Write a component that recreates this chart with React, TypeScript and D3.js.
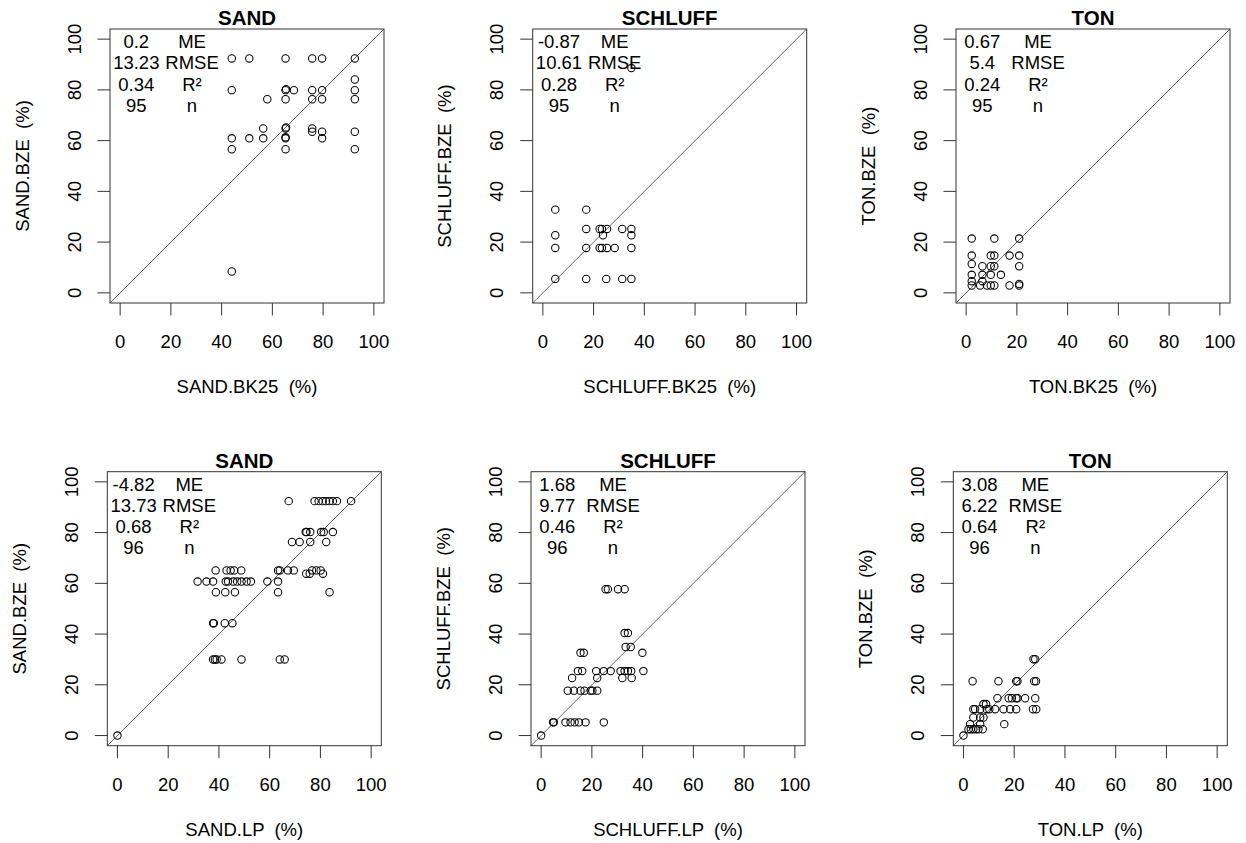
import React from 'react'
import { scaleLinear } from 'd3'

// BK25 / LP vs. BZE texture comparison
const ticks = [0, 20, 40, 60, 80, 100]
const statNames = ['ME', 'RMSE', 'R²', 'n']

// top row: BK25 vs BZE
const sandBkX = [44, 50.9, 65.2, 75.7, 79.6, 92.5, 92.5, 44, 65.2, 65.4, 68.5, 75.7, 79.6, 92.5, 58, 65.2, 75.7, 79.6, 92.5, 56.4, 65.2, 65.4, 75.7, 75.7, 79.6, 92.5, 44, 50.9, 56.4, 65.2, 65.2, 79.6, 44, 65.2, 92.5, 44]
const sandBkY = [92.4, 92.4, 92.4, 92.4, 92.4, 92.4, 84.1, 79.9, 79.9, 80.3, 79.9, 79.9, 79.9, 79.9, 76.3, 76.3, 76.3, 76.3, 76.3, 64.8, 64.8, 65.2, 64.8, 63.5, 63.5, 63.5, 60.9, 60.9, 60.9, 60.9, 61.3, 60.9, 56.6, 56.6, 56.6, 8.4]
const schluffBkX = [34.9, 4.9, 17.1, 17.1, 22.4, 23.3, 25.3, 31.3, 34.9, 4.9, 23.7, 34.9, 4.9, 17.1, 22.4, 23.3, 25.3, 28.3, 34.9, 4.9, 17.1, 25, 31.3, 34.9]
const schluffBkY = [88.6, 32.8, 32.8, 25.2, 25.2, 25.2, 25.2, 25.2, 25.2, 22.7, 22.7, 22.7, 17.7, 17.7, 17.7, 17.7, 17.7, 17.7, 17.7, 5.5, 5.5, 5.5, 5.5, 5.5]
const tonBkX = [2.2, 11.1, 20.9, 2.2, 9.7, 11.1, 17.1, 20.9, 2.2, 6.4, 9.7, 11.1, 20.9, 2.2, 6.4, 9.7, 13.7, 2.2, 6.4, 2.2, 5.5, 8.2, 9.7, 11.1, 17.1, 20.9, 20.9]
const tonBkY = [21.4, 21.4, 21.4, 14.7, 14.7, 14.7, 14.7, 14.7, 11.4, 10.5, 10.5, 10.5, 10.5, 7.1, 7.1, 7.1, 7.1, 4.6, 4.6, 2.9, 2.9, 2.9, 2.9, 2.9, 2.9, 2.9, 3.5]

// bottom row: LP vs BZE
const sandLpX = [67.5, 77.7, 79.3, 80.9, 82.2, 83.5, 84.9, 86.5, 92.1, 74.2, 74.5, 76, 80.3, 81.3, 84.9, 68.8, 71.8, 76, 82.3, 38.7, 43, 44.6, 46, 48.8, 63.3, 64, 67.2, 69.5, 76.7, 78.4, 80.1, 74.4, 75.8, 81, 31.6, 35.1, 37.7, 42.7, 43.6, 45.6, 47.2, 48.9, 50.9, 52.6, 59.1, 63.3, 38.8, 42.5, 46.3, 63.3, 83.6, 37.7, 38, 42.3, 45.3, 37.7, 38.4, 39.1, 41, 48.9, 64, 65.9, 0]
const sandLpY = [92.4, 92.4, 92.4, 92.4, 92.4, 92.4, 92.4, 92.4, 92.4, 80.2, 80.2, 80.2, 80.2, 80.2, 80.2, 76.3, 76.3, 76.3, 76.3, 65.1, 65.1, 65.1, 65.1, 65.1, 65.1, 65.1, 65.1, 65.1, 65.1, 65.1, 65.1, 63.8, 63.8, 63.8, 60.7, 60.7, 60.7, 60.7, 60.7, 60.7, 60.7, 60.7, 60.7, 60.7, 60.7, 60.7, 56.5, 56.5, 56.5, 56.5, 56.5, 44.3, 44.3, 44.3, 44.3, 30, 30, 30, 30, 30, 30, 30, 0]
const schluffLpX = [25.4, 26.3, 30.3, 32.9, 32.9, 34.2, 33.3, 35.3, 15.5, 16.8, 39.9, 14.5, 16.2, 21.7, 24.7, 27.4, 31.3, 32.9, 34.2, 35.5, 40.3, 12.2, 22.1, 32, 35.7, 10.5, 12.9, 15.5, 17.1, 19.5, 20.2, 22.1, 4.7, 5, 9.6, 11.6, 13.2, 14.9, 17.5, 24.7, 0]
const schluffLpY = [57.7, 57.7, 57.7, 57.7, 40.4, 40.4, 34.9, 34.9, 32.6, 32.6, 32.6, 25.4, 25.4, 25.4, 25.4, 25.4, 25.4, 25.4, 25.4, 25.4, 25.4, 22.7, 22.7, 22.7, 22.7, 17.7, 17.7, 17.7, 17.7, 17.7, 17.7, 17.7, 5.2, 5.2, 5.2, 5.2, 5.2, 5.2, 5.2, 5.2, 0]
const tonLpX = [27.6, 28.3, 3.6, 13.8, 20.8, 21.3, 27.9, 28.6, 13.4, 17.8, 19.1, 20.8, 21.3, 24.3, 28.3, 7.9, 8.9, 3.9, 4.6, 6.6, 9.2, 10.2, 12.5, 15.8, 18.4, 20.8, 27.4, 28.7, 3.9, 6.6, 7.9, 2.6, 6.6, 16.1, 2, 2.9, 3.9, 5, 5.9, 7.6, 0]
const tonLpY = [30.1, 30.1, 21.4, 21.4, 21.4, 21.4, 21.4, 21.4, 14.7, 14.7, 14.7, 14.7, 14.7, 14.7, 14.7, 12.4, 12.4, 10.4, 10.4, 10.4, 10.4, 10.4, 10.4, 10.4, 10.4, 10.4, 10.4, 10.4, 7.1, 7.1, 7.1, 4.5, 4.5, 4.5, 2.5, 2.5, 2.5, 2.5, 2.5, 2.5, 0]

const titles = ['SAND', 'SCHLUFF', 'TON', 'SAND', 'SCHLUFF', 'TON']
const xLabels = ['SAND.BK25  (%)', 'SCHLUFF.BK25  (%)', 'TON.BK25  (%)', 'SAND.LP  (%)', 'SCHLUFF.LP  (%)', 'TON.LP  (%)']
const yLabels = ['SAND.BZE  (%)', 'SCHLUFF.BZE  (%)', 'TON.BZE  (%)', 'SAND.BZE  (%)', 'SCHLUFF.BZE  (%)', 'TON.BZE  (%)']
const statValues = [
  ['0.2', '13.23', '0.34', '95'],
  ['-0.87', '10.61', '0.28', '95'],
  ['0.67', '5.4', '0.24', '95'],
  ['-4.82', '13.73', '0.68', '96'],
  ['1.68', '9.77', '0.46', '96'],
  ['3.08', '6.22', '0.64', '96'],
]
const panelX = [sandBkX, schluffBkX, tonBkX, sandLpX, schluffLpX, tonLpX]
const panelY = [sandBkY, schluffBkY, tonBkY, sandLpY, schluffLpY, tonLpY]

// plot box origins
const boxes = [
  [110, 29], [532.7, 29], [956, 29],
  [107.3, 471.7], [531, 471.7], [953.3, 471.7],
]
const SIZE = 274
const FONT = 'Liberation Sans, Arial, sans-serif'

const Panel = ({ i }: { i: number }) => {
  const [left, top] = boxes[i]
  const x = scaleLinear().domain([-4, 104]).range([0, SIZE])
  const y = scaleLinear().domain([-4, 104]).range([SIZE, 0])
  const xs = panelX[i]
  const ys = panelY[i]
  return (
    <g transform={`translate(${left},${top})`} fontFamily={FONT} fontSize={18.5}>
      <text x={SIZE / 2} y={-4.2} textAnchor="middle" fontWeight="bold" fontSize={20.5}>{titles[i]}</text>
      <line x1={x(-4)} y1={y(-4)} x2={x(104)} y2={y(104)} stroke="#555" strokeWidth={0.9} />
      {xs.map((d, k) => (
        <circle key={k} cx={x(d)} cy={y(ys[k])} r={3.7} fill="none" stroke="#000" strokeWidth={1.05} />
      ))}
      <rect x={0} y={0} width={SIZE} height={SIZE} fill="none" stroke="#333" strokeWidth={1} />
      {ticks.map(t => (
        <g key={t}>
          <line x1={x(t)} x2={x(t)} y1={SIZE} y2={SIZE + 12.5} stroke="#333" />
          <text x={x(t)} y={SIZE + 45} textAnchor="middle">{t}</text>
          <line y1={y(t)} y2={y(t)} x1={0} x2={-12.5} stroke="#333" />
          <text transform={`translate(-29.4,${y(t)}) rotate(-90)`} textAnchor="middle">{t}</text>
        </g>
      ))}
      <text x={SIZE / 2} y={SIZE + 90} textAnchor="middle" style={{ whiteSpace: 'pre' }}>{xLabels[i]}</text>
      <text transform={`translate(-81.4,${SIZE / 2}) rotate(-90)`} textAnchor="middle" style={{ whiteSpace: 'pre' }}>{yLabels[i]}</text>
      {statNames.map((s, k) => (
        <g key={s}>
          <text x={26.3} y={19.3 + k * 21.1} textAnchor="middle">{statValues[i][k]}</text>
          <text x={82} y={19.3 + k * 21.1} textAnchor="middle">{s}</text>
        </g>
      ))}
    </g>
  )
}

export default function App() {
  return (
    <svg width={1246} height={843} style={{ position: 'absolute', left: 0, top: 0, background: '#fff' }}>
      {titles.map((_, i) => <Panel key={i} i={i} />)}
    </svg>
  )
}
